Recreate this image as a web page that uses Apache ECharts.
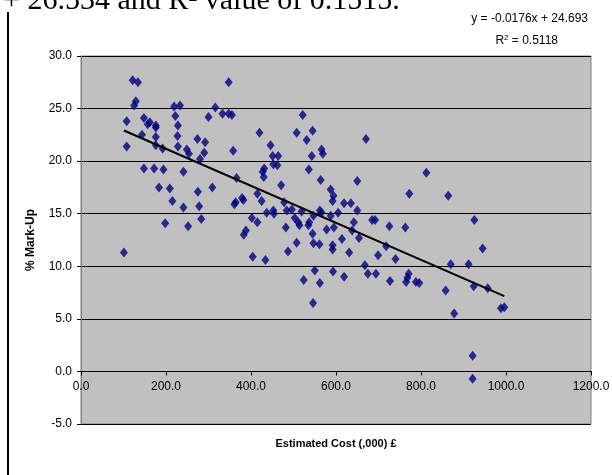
<!DOCTYPE html>
<html>
<head>
<meta charset="utf-8">
<script src="https://cdn.jsdelivr.net/npm/echarts@6/dist/echarts.min.js"></script>
<style>
html,body{margin:0;padding:0;background:#fff;}
#c{width:612px;height:475px;}
</style>
</head>
<body>
<div id="c"></div>
<script>
// Estimated cost (,000 £)
var costX = [121.6,134,125,129,107.5,107.5,148,157,162,176,176,143.5,176,176,192,148,172,194,183.5,209,215,241,198,252,
  219,233,222,228,227,228,249,254,241,274,292,290,280,275,278,283,300,316,333,347.5,347.5,355,309,358,366,361,364,379,382,
  402,415,425,415,420,446,451,464,452.5,462,431,427.5,430,471,437,452.5,454,478,484,496,503,511,514,519,507.5,521.6,531,545,
  543,536,566,569,564,587.5,594,592,562,566,547,537,535,587.5,605,
  101,388,383,404,434,482,545,547,561,507.5,487,578,595,592,592,550,524,562,593,546,
  670.6,812.5,650,772.5,864,619,635,650,642,685,692,725.5,763,925.5,
  638,614,654,631,718,699,740,668,675,694,619,727,771,768,765,788,796,945,870,912,858,924,957,878,988,996,921.5,921.5];
// % Mark-Up
var markUp = [27.7,27.5,25.3,25.7,23.8,21.4,24.1,23.5,23.7,23.4,23.2,22.5,22.3,21.5,21.2,19.3,19.3,19.2,17.5,17.4,16.2,15.6,14.1,13.8,
  25.2,25.3,24.3,23.4,22.4,21.4,21.1,20.7,19.0,22.1,21.8,20.8,20.2,17.1,15.7,14.5,24.2,25.1,24.5,27.5,24.5,24.4,17.5,21.0,18.4,15.9,16.1,16.5,16.3,
  14.6,16.9,16.2,14.2,22.7,21.5,20.5,20.5,19.7,19.6,19.3,19.0,18.5,17.7,15.1,15.3,15.0,16.1,15.3,15.4,14.6,14.2,13.9,15.2,22.7,24.4,22.0,22.9,
  20.5,19.2,21.1,20.7,18.2,17.3,16.7,16.2,15.3,15.1,14.8,14.2,13.9,14.8,15.1,
  11.3,13.4,13.0,10.9,10.6,13.7,13.1,12.2,12.1,12.25,11.4,13.5,13.7,12.0,11.6,9.6,8.7,8.4,9.5,6.5,
  22.1,18.9,18.1,16.9,16.7,16.0,16.0,15.3,14.2,14.4,14.4,13.8,13.7,14.4,
  13.4,12.6,12.7,11.3,11.9,11.05,10.7,10.1,9.3,9.3,9.0,8.6,9.3,8.9,8.5,8.5,8.4,11.7,10.2,10.2,7.7,8.1,7.9,5.5,6.0,6.1,1.5,-0.7];
// Linear trendline reported on the chart
var trendSlope = -0.0176;
var trendIntercept = 24.693;
var equationText = 'y = -0.0176x + 24.693';
var r2Text = 'R{sup|2} = 0.5118';
var xTicks = {min: 0, max: 1200, step: 200};
var yTicks = {min: -5, max: 30, step: 5};

var points = costX.map(function (x, i) { return [x, markUp[i]]; });
var xMin = Math.min.apply(null, costX), xMax = Math.max.apply(null, costX);
var trend = [[xMin, trendSlope * xMin + trendIntercept], [xMax, trendSlope * xMax + trendIntercept]];

var gridTop = 56, gridH = 368;
// the x axis crosses the y axis at 0: shift it up from the bottom of the plot
var zeroOffset = -gridH * (0 - yTicks.min) / (yTicks.max - yTicks.min);

var chart = echarts.init(document.getElementById('c'), null, {renderer: 'canvas'});
var font = 'Liberation Sans, Arial, sans-serif';
chart.setOption({
  animation: false,
  backgroundColor: '#ffffff',
  grid: {left: 81, top: gridTop, width: 510, height: gridH, containLabel: false, outerBoundsMode: 'none',
    show: true, backgroundColor: '#C0C0C0', borderColor: '#808080', borderWidth: 1},
  xAxis: {
    type: 'value', min: xTicks.min, max: xTicks.max, interval: xTicks.step,
    position: 'bottom', offset: zeroOffset,
    name: 'Estimated Cost (,000) £', nameLocation: 'middle', nameGap: 67,
    nameTextStyle: {fontFamily: font, fontSize: 11, fontWeight: 'bold', color: '#000'},
    axisLine: {onZero: false, lineStyle: {color: '#000', width: 1}},
    axisTick: {show: true, length: 4, lineStyle: {color: '#000'}},
    axisLabel: {fontFamily: font, fontSize: 12, color: '#000', margin: 9, formatter: function (v) { return v.toFixed(1); }},
    splitLine: {show: false}
  },
  yAxis: {
    type: 'value', min: yTicks.min, max: yTicks.max, interval: yTicks.step,
    name: '% Mark-Up', nameLocation: 'middle', nameGap: 44, nameRotate: 90,
    nameTextStyle: {fontFamily: font, fontSize: 12, fontWeight: 'bold', color: '#000'},
    axisLine: {show: true, onZero: false, lineStyle: {color: '#808080', width: 1}},
    axisTick: {show: true, length: 4, lineStyle: {color: '#000'}},
    axisLabel: {fontFamily: font, fontSize: 12, color: '#000', margin: 9, formatter: function (v) { return v.toFixed(1); }},
    splitLine: {show: true, lineStyle: {color: '#000', width: 1}}
  },
  series: [
    {type: 'scatter', data: points, symbol: 'diamond', symbolSize: [8, 10], itemStyle: {color: '#000080'}, z: 3},
    {type: 'line', data: trend, symbol: 'none', lineStyle: {color: '#000', width: 2}, z: 4}
  ],
  graphic: [
    {type: 'line', shape: {x1: 8, y1: 12, x2: 8, y2: 475}, style: {stroke: '#000', lineWidth: 2}},
    {type: 'text', left: 3, top: -14, style: {text: '+ 26.534 and R\u00B2 value of 0.1515.', font: '30px "Liberation Serif", "Times New Roman", serif', fill: '#000'}},
    {type: 'text', right: 24, top: 13, style: {text: equationText, font: '12px ' + font, fill: '#000'}},
    {type: 'text', right: 54, top: 34, style: {text: r2Text, font: '12px ' + font, fill: '#000', rich: {sup: {fontSize: 8, verticalAlign: 'top', padding: [0, 0, 6, 0], fontFamily: font}}}}
  ]
});
</script>
</body>
</html>
